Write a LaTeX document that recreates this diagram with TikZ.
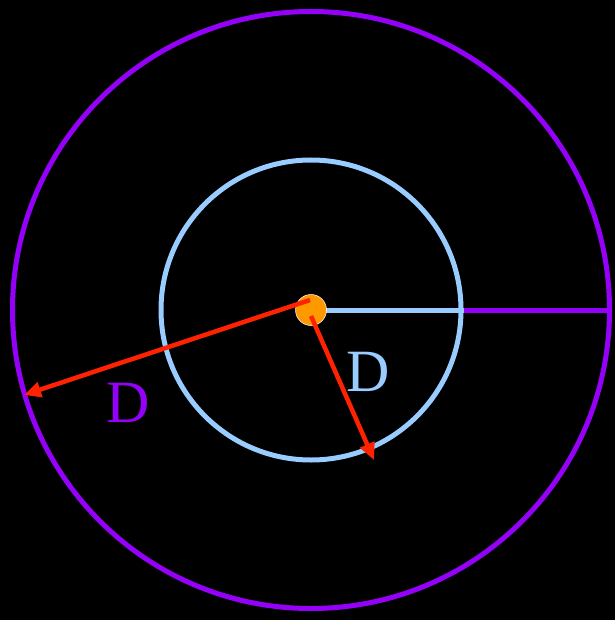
\documentclass[tikz,border=0pt]{standalone}
\usepackage{fontspec}
\setmainfont{Liberation Serif}
\usetikzlibrary{arrows.meta}
\definecolor{vio}{HTML}{9400F8}
\definecolor{lblue}{HTML}{99CCFF}
\definecolor{rd}{HTML}{FF2200}
\definecolor{org}{HTML}{FF9900}
\begin{document}
\begin{tikzpicture}[x=1pt,y=-1pt,
  ring/.style={draw, circle, line width=5pt, inner sep=0pt},
  radarrow/.style={draw=rd, line width=4.5pt, -{Triangle[length=17pt,width=15pt]}},
  lbl/.style={font=\fontsize{60}{60}\selectfont, inner sep=0pt, anchor=base}]
\fill[black] (0,0) rectangle (615,620);
\useasboundingbox (0,0) rectangle (615,620);
\coordinate (c) at (311,310);
\node[ring, draw=vio, minimum size=597pt] (outer) at (c) {};
\node[ring, draw=lblue, minimum size=300pt] (inner) at (c) {};
\draw[lblue, line width=5pt] (c) -- (inner.east);
\draw[vio, line width=5pt] (inner.east) -- (outer.east);
\node[circle, fill=org, draw=white, line width=0.5pt, minimum size=31pt, inner sep=0pt] (dot) at (c) {};
\coordinate (a1s) at (310,300);
\coordinate (a1e) at (24,395);
\coordinate (a2s) at (311,316);
\coordinate (a2e) at (374,460);
\draw[radarrow] (a1s) -- (a1e);
\draw[radarrow] (a2s) -- (a2e);
\node[lbl, text=vio] (d1) at (128,422) {D};
\node[lbl, text=lblue] (d2) at (368,391) {D};
\end{tikzpicture}
\end{document}
